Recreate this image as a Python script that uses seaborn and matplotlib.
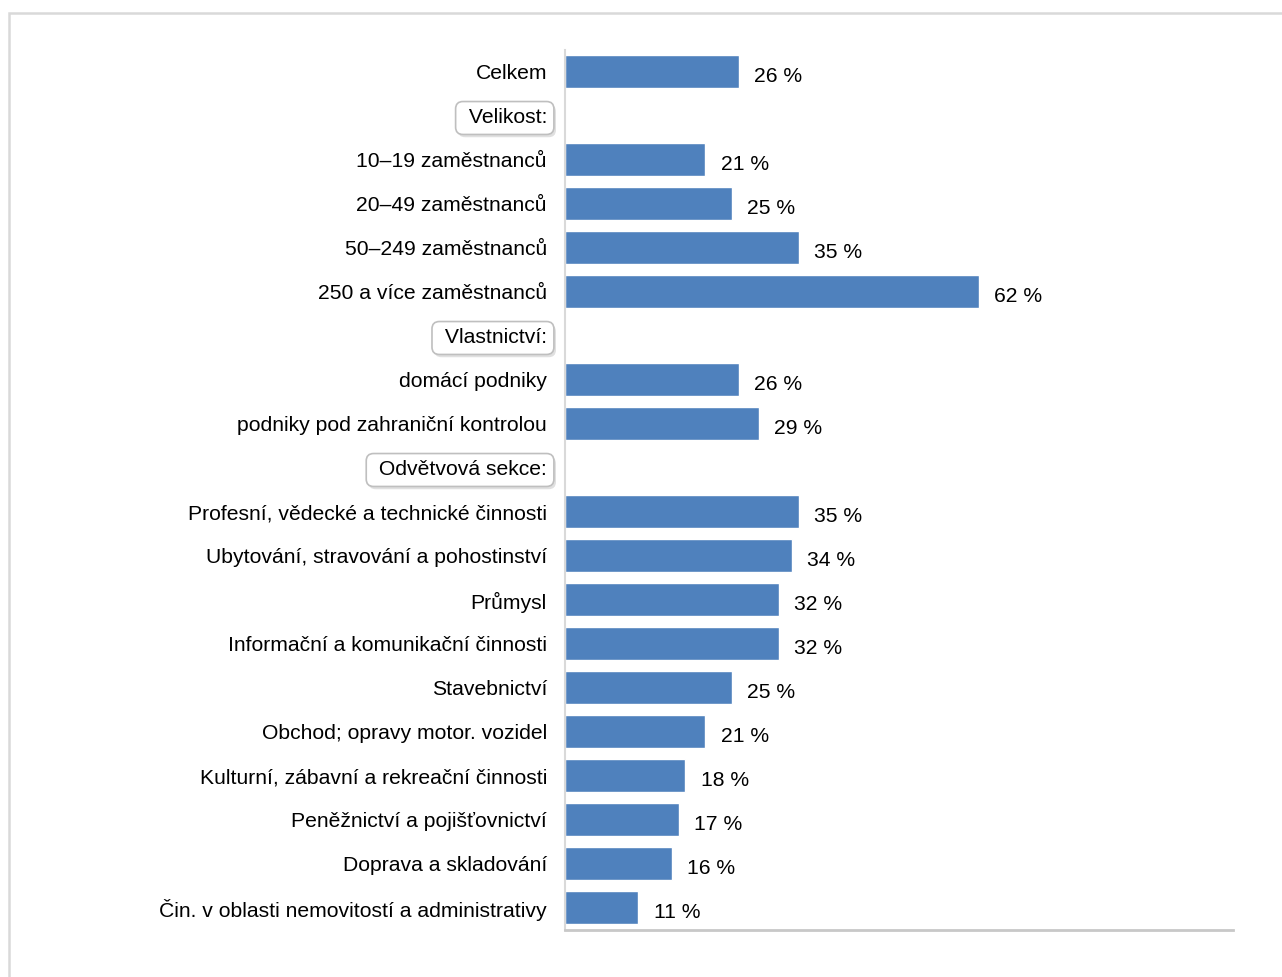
import matplotlib
matplotlib.use("Agg")
import matplotlib.pyplot as plt
import matplotlib.patheffects as pe
from matplotlib.patches import Rectangle
import seaborn as sns
import pandas as pd

# Row order, including group headers (drawn as boxed labels without bars)
rows = [
    "Celkem",
    "Velikost:",
    "10–19 zaměstnanců",
    "20–49 zaměstnanců",
    "50–249 zaměstnanců",
    "250 a více zaměstnanců",
    "Vlastnictví:",
    "domácí podniky",
    "podniky pod zahraniční kontrolou",
    "Odvětvová sekce:",
    "Profesní, vědecké a technické činnosti",
    "Ubytování, stravování a pohostinství",
    "Průmysl",
    "Informační a komunikační činnosti",
    "Stavebnictví",
    "Obchod; opravy motor. vozidel",
    "Kulturní, zábavní a rekreační činnosti",
    "Peněžnictví a pojišťovnictví",
    "Doprava a skladování",
    "Čin. v oblasti nemovitostí a administrativy",
]
headers = ["Velikost:", "Vlastnictví:", "Odvětvová sekce:"]

categories = [r for r in rows if r not in headers]
values = [26, 21, 25, 35, 62, 26, 29, 35, 34, 32, 32, 25, 21, 18, 17, 16, 11]

df = pd.DataFrame({"kategorie": categories, "podil": values})

sns.set_theme(style="white")
plt.rcParams["font.family"] = ["Liberation Sans", "DejaVu Sans"]

fig = plt.figure(figsize=(12.82, 9.77), dpi=100)
ax = fig.add_axes([565 / 1282, 1 - 930 / 977, (1233 - 565) / 1282, (930 - 50) / 977])

sns.barplot(data=df, y="kategorie", x="podil", order=rows, color="#4F81BD",
            saturation=1, width=0.75, orient="h", ax=ax, errorbar=None)

ax.set_xlim(0, 100)
ax.set_ylim(len(rows) - 0.5, -0.5)
ax.set_xlabel("")
ax.set_ylabel("")
ax.set_xticks([])
# header labels get a leading space so their box has more room on the left
ax.set_yticks(range(len(rows)),
              labels=[(" " + r) if r in headers else r for r in rows])
ax.tick_params(axis="y", length=0, pad=13, labelsize=15.2, colors="black")

for cont in ax.containers:
    anns = ax.bar_label(cont, fmt="%.0f %%", padding=11, fontsize=15.2, color="black")
    for a in anns:
        a.xyann = (11, -3)

for lbl in ax.get_yticklabels():
    if lbl.get_text().strip() in headers:
        lbl.set_bbox(dict(boxstyle="round,pad=0.33,rounding_size=0.35",
                          facecolor="white", edgecolor="#BFBFBF", linewidth=1.2))
        lbl.get_bbox_patch().set_path_effects([
            pe.SimplePatchShadow(offset=(1.5, -2), shadow_rgbFace="#000000", alpha=0.12),
            pe.Normal(),
        ])

for side in ("top", "right"):
    ax.spines[side].set_visible(False)
ax.spines["left"].set_color("#D9D9D9")
ax.spines["left"].set_linewidth(1.5)
ax.spines["bottom"].set_color("#C8C8C8")
ax.spines["bottom"].set_linewidth(2)

# Outer chart frame
fig.patches.append(Rectangle((9 / 1282, -0.1), 1.2, (1 - 13 / 977) + 0.1,
                             transform=fig.transFigure, fill=False,
                             edgecolor="#D9D9D9", linewidth=1.8, zorder=0))

fig.savefig("out.png", dpi=100, facecolor="white")
